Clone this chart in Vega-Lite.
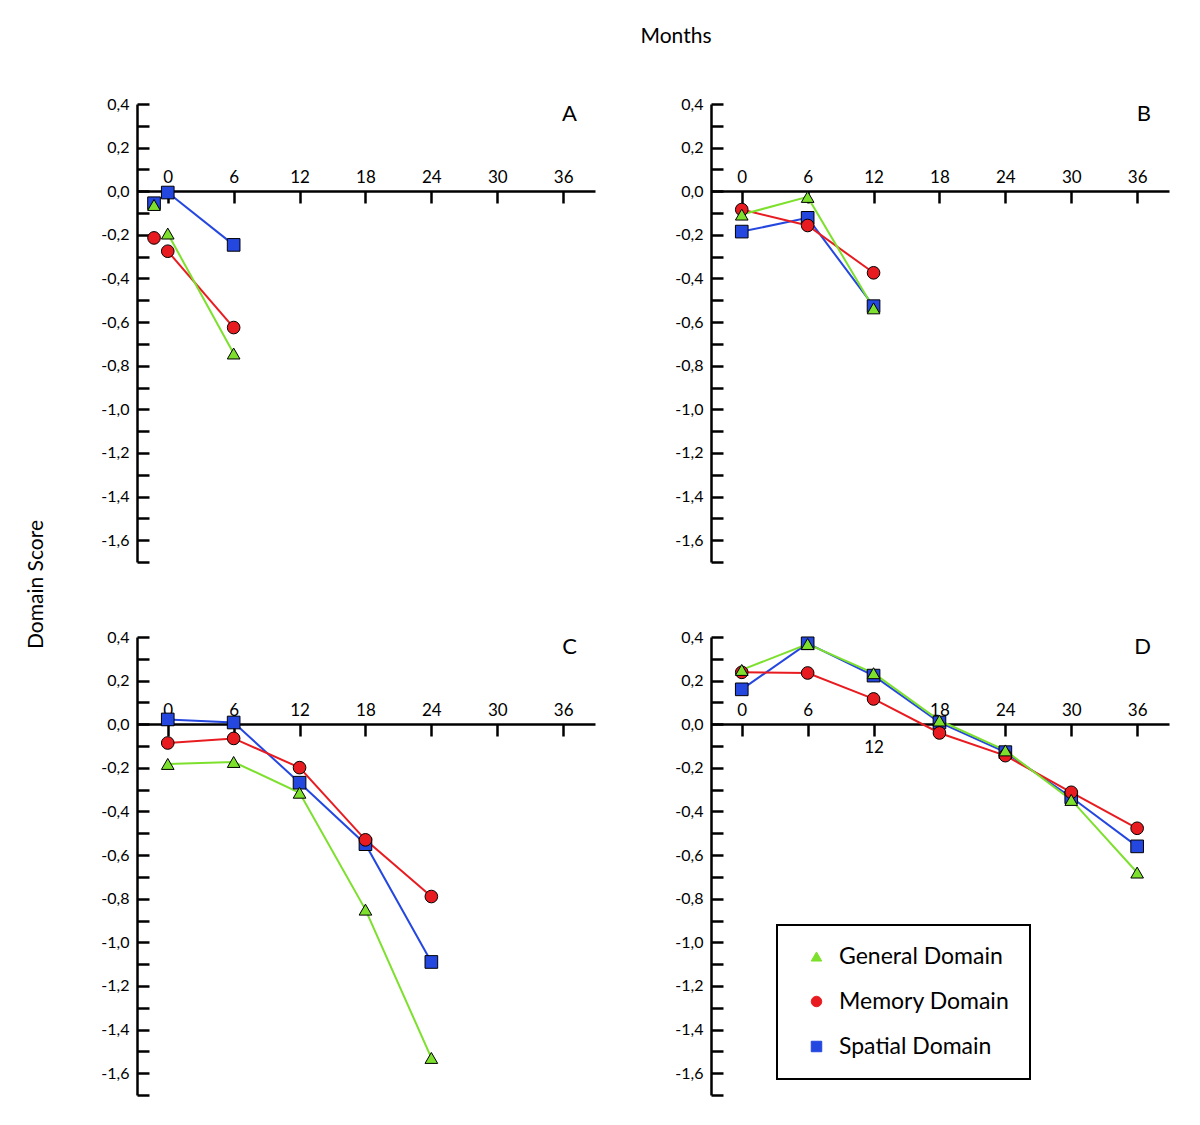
{
  "$schema": "https://vega.github.io/schema/vega-lite/v6.json",
  "background": "white",
  "padding": {"left": 25, "top": 26, "right": 10, "bottom": 10},
  "config": {
    "view": {"stroke": null},
    "font": "Lato",
    "title": {"font": "Lato", "fontWeight": "normal", "color": "black"},
    "axisY": {
      "orient": "left",
      "tickCount": 21,
      "tickSize": -12,
      "labelPadding": 20,
      "domainColor": "black",
      "domainWidth": 2.5,
      "tickColor": "black",
      "tickWidth": 2.5,
      "labelFont": "Lato",
      "labelFontSize": 16,
      "labelColor": "black",
      "labelOverlap": false,
      "labelFlush": false,
      "grid": false,
      "title": null,
      "labelExpr": "abs(round(datum.value*10)) % 2 == 0 ? replace(replace(format(datum.value, '.1f'), '.', ','), '\u2212', '-') : ''"
    },
    "axisX": {
      "orient": "bottom",
      "offset": -371,
      "tickSize": 12,
      "labelPadding": -21,
      "labelBaseline": "alphabetic",
      "domainColor": "black",
      "domainWidth": 2.5,
      "tickColor": "black",
      "tickWidth": 2.5,
      "labelFont": "Lato",
      "labelFontSize": 17,
      "labelColor": "black",
      "labelOverlap": false,
      "labelFlush": false,
      "grid": false,
      "title": null
    }
  },
  "datasets": {
    "pts": [
      {"panel": "A", "domain": "Spatial Domain", "month": -1.25, "score": -0.055},
      {"panel": "A", "domain": "Spatial Domain", "month": 0, "score": -0.006},
      {"panel": "A", "domain": "Spatial Domain", "month": 6, "score": -0.246},
      {"panel": "A", "domain": "Memory Domain", "month": -1.25, "score": -0.214},
      {"panel": "A", "domain": "Memory Domain", "month": 0, "score": -0.275},
      {"panel": "A", "domain": "Memory Domain", "month": 6, "score": -0.625},
      {"panel": "A", "domain": "General Domain", "month": -1.25, "score": -0.063},
      {"panel": "A", "domain": "General Domain", "month": 0, "score": -0.194},
      {"panel": "A", "domain": "General Domain", "month": 6, "score": -0.744},

      {"panel": "B", "domain": "Spatial Domain", "month": 0, "score": -0.185},
      {"panel": "B", "domain": "Spatial Domain", "month": 6, "score": -0.122},
      {"panel": "B", "domain": "Spatial Domain", "month": 12, "score": -0.527},
      {"panel": "B", "domain": "Memory Domain", "month": 0, "score": -0.084},
      {"panel": "B", "domain": "Memory Domain", "month": 6, "score": -0.157},
      {"panel": "B", "domain": "Memory Domain", "month": 12, "score": -0.374},
      {"panel": "B", "domain": "General Domain", "month": 0, "score": -0.107},
      {"panel": "B", "domain": "General Domain", "month": 6, "score": -0.026},
      {"panel": "B", "domain": "General Domain", "month": 12, "score": -0.537},

      {"panel": "C", "domain": "Spatial Domain", "month": 0, "score": 0.022},
      {"panel": "C", "domain": "Spatial Domain", "month": 6, "score": 0.008},
      {"panel": "C", "domain": "Spatial Domain", "month": 12, "score": -0.268},
      {"panel": "C", "domain": "Spatial Domain", "month": 18, "score": -0.55},
      {"panel": "C", "domain": "Spatial Domain", "month": 24, "score": -1.09},
      {"panel": "C", "domain": "Memory Domain", "month": 0, "score": -0.086},
      {"panel": "C", "domain": "Memory Domain", "month": 6, "score": -0.065},
      {"panel": "C", "domain": "Memory Domain", "month": 12, "score": -0.199},
      {"panel": "C", "domain": "Memory Domain", "month": 18, "score": -0.53},
      {"panel": "C", "domain": "Memory Domain", "month": 24, "score": -0.79},
      {"panel": "C", "domain": "General Domain", "month": 0, "score": -0.182},
      {"panel": "C", "domain": "General Domain", "month": 6, "score": -0.173},
      {"panel": "C", "domain": "General Domain", "month": 12, "score": -0.314},
      {"panel": "C", "domain": "General Domain", "month": 18, "score": -0.85},
      {"panel": "C", "domain": "General Domain", "month": 24, "score": -1.53},

      {"panel": "D", "domain": "Spatial Domain", "month": 0, "score": 0.16},
      {"panel": "D", "domain": "Spatial Domain", "month": 6, "score": 0.371},
      {"panel": "D", "domain": "Spatial Domain", "month": 12, "score": 0.223},
      {"panel": "D", "domain": "Spatial Domain", "month": 18, "score": 0.008},
      {"panel": "D", "domain": "Spatial Domain", "month": 24, "score": -0.128},
      {"panel": "D", "domain": "Spatial Domain", "month": 30, "score": -0.335},
      {"panel": "D", "domain": "Spatial Domain", "month": 36, "score": -0.56},
      {"panel": "D", "domain": "Memory Domain", "month": 0, "score": 0.238},
      {"panel": "D", "domain": "Memory Domain", "month": 6, "score": 0.235},
      {"panel": "D", "domain": "Memory Domain", "month": 12, "score": 0.116},
      {"panel": "D", "domain": "Memory Domain", "month": 18, "score": -0.04},
      {"panel": "D", "domain": "Memory Domain", "month": 24, "score": -0.144},
      {"panel": "D", "domain": "Memory Domain", "month": 30, "score": -0.312},
      {"panel": "D", "domain": "Memory Domain", "month": 36, "score": -0.477},
      {"panel": "D", "domain": "General Domain", "month": 0, "score": 0.249},
      {"panel": "D", "domain": "General Domain", "month": 6, "score": 0.368},
      {"panel": "D", "domain": "General Domain", "month": 12, "score": 0.234},
      {"panel": "D", "domain": "General Domain", "month": 18, "score": 0.017},
      {"panel": "D", "domain": "General Domain", "month": 24, "score": -0.12},
      {"panel": "D", "domain": "General Domain", "month": 30, "score": -0.347},
      {"panel": "D", "domain": "General Domain", "month": 36, "score": -0.68}
    ]
  },
  "title": {"text": "Months", "fontSize": 21, "anchor": "middle", "offset": 49, "dx": 79},
  "columns": 2,
  "spacing": {"row": 75, "column": 116},
  "bounds": "flush",
  "resolve": {"scale": {"color": "independent", "shape": "independent"}, "legend": {"color": "independent", "shape": "independent"}},
  "concat": [
    {
      "width": 458, "height": 458,
      "title": {"text": "A", "anchor": "end", "frame": "group", "offset": -30, "dx": -18, "fontSize": 22},
      "data": {"name": "pts"},
      "transform": [{"filter": "datum.panel == 'A'"}],
      "layer": [
        {
          "transform": [{"filter": "datum.month >= 0"}],
          "mark": {"type": "line", "strokeWidth": 2},
          "encoding": {
            "x": {"field": "month", "type": "quantitative", "scale": {"domain": [-2.8, 38.9], "nice": false, "zero": false}, "axis": {"values": [0, 6, 12, 18, 24, 30, 36]}},
            "y": {"field": "score", "type": "quantitative", "scale": {"domain": [-1.7, 0.4], "nice": false, "zero": false}, "axis": {"title": "Domain Score", "titleFont": "Lato", "titleFontSize": 21, "titleFontWeight": "normal", "titleColor": "black", "titleAngle": -90, "titleAlign": "center", "titleBaseline": "middle", "titleX": -101, "titleY": 480}},
            "color": {"field": "domain", "type": "nominal", "scale": {"domain": ["General Domain", "Memory Domain", "Spatial Domain"], "range": ["#7CE02C", "#E81C20", "#2447E0"]}, "legend": null}
          }
        },
        {
          "mark": {"type": "point", "filled": true, "stroke": "black", "strokeWidth": 1, "size": 160, "opacity": 1},
          "encoding": {
            "x": {"field": "month", "type": "quantitative"},
            "y": {"field": "score", "type": "quantitative"},
            "color": {"field": "domain", "type": "nominal", "legend": null},
            "shape": {"field": "domain", "type": "nominal", "scale": {"domain": ["General Domain", "Memory Domain", "Spatial Domain"], "range": ["triangle-up", "circle", "square"]}, "legend": null}
          }
        }
      ]
    },
    {
      "width": 458, "height": 458,
      "title": {"text": "B", "anchor": "end", "frame": "group", "offset": -30, "dx": -18, "fontSize": 22},
      "data": {"name": "pts"},
      "transform": [{"filter": "datum.panel == 'B'"}],
      "layer": [
        {
          "transform": [{"filter": "datum.month >= 0"}],
          "mark": {"type": "line", "strokeWidth": 2},
          "encoding": {
            "x": {"field": "month", "type": "quantitative", "scale": {"domain": [-2.8, 38.9], "nice": false, "zero": false}, "axis": {"values": [0, 6, 12, 18, 24, 30, 36]}},
            "y": {"field": "score", "type": "quantitative", "scale": {"domain": [-1.7, 0.4], "nice": false, "zero": false}},
            "color": {"field": "domain", "type": "nominal", "scale": {"domain": ["General Domain", "Memory Domain", "Spatial Domain"], "range": ["#7CE02C", "#E81C20", "#2447E0"]}, "legend": null}
          }
        },
        {
          "mark": {"type": "point", "filled": true, "stroke": "black", "strokeWidth": 1, "size": 160, "opacity": 1},
          "encoding": {
            "x": {"field": "month", "type": "quantitative"},
            "y": {"field": "score", "type": "quantitative"},
            "color": {"field": "domain", "type": "nominal", "legend": null},
            "shape": {"field": "domain", "type": "nominal", "scale": {"domain": ["General Domain", "Memory Domain", "Spatial Domain"], "range": ["triangle-up", "circle", "square"]}, "legend": null}
          }
        }
      ]
    },
    {
      "width": 458, "height": 458,
      "title": {"text": "C", "anchor": "end", "frame": "group", "offset": -30, "dx": -18, "fontSize": 22},
      "data": {"name": "pts"},
      "transform": [{"filter": "datum.panel == 'C'"}],
      "layer": [
        {
          "transform": [{"filter": "datum.month >= 0"}],
          "mark": {"type": "line", "strokeWidth": 2},
          "encoding": {
            "x": {"field": "month", "type": "quantitative", "scale": {"domain": [-2.8, 38.9], "nice": false, "zero": false}, "axis": {"values": [0, 6, 12, 18, 24, 30, 36]}},
            "y": {"field": "score", "type": "quantitative", "scale": {"domain": [-1.7, 0.4], "nice": false, "zero": false}},
            "color": {"field": "domain", "type": "nominal", "scale": {"domain": ["General Domain", "Memory Domain", "Spatial Domain"], "range": ["#7CE02C", "#E81C20", "#2447E0"]}, "legend": null}
          }
        },
        {
          "mark": {"type": "point", "filled": true, "stroke": "black", "strokeWidth": 1, "size": 160, "opacity": 1},
          "encoding": {
            "x": {"field": "month", "type": "quantitative"},
            "y": {"field": "score", "type": "quantitative"},
            "color": {"field": "domain", "type": "nominal", "legend": null},
            "shape": {"field": "domain", "type": "nominal", "scale": {"domain": ["General Domain", "Memory Domain", "Spatial Domain"], "range": ["triangle-up", "circle", "square"]}, "legend": null}
          }
        }
      ]
    },
    {
      "width": 458, "height": 458,
      "title": {"text": "D", "anchor": "end", "frame": "group", "offset": -30, "dx": -18, "fontSize": 22},
      "data": {"name": "pts"},
      "transform": [{"filter": "datum.panel == 'D'"}],
      "layer": [
        {
          "transform": [{"filter": "datum.month >= 0"}],
          "mark": {"type": "line", "strokeWidth": 2},
          "encoding": {
            "x": {"field": "month", "type": "quantitative", "scale": {"domain": [-2.8, 38.9], "nice": false, "zero": false}, "axis": {"values": [0, 6, 12, 18, 24, 30, 36], "labelExpr": "datum.value == 12 ? ['', '', '12'] : datum.label", "labelLineHeight": 37}},
            "y": {"field": "score", "type": "quantitative", "scale": {"domain": [-1.7, 0.4], "nice": false, "zero": false}},
            "color": {"field": "domain", "type": "nominal", "scale": {"domain": ["General Domain", "Memory Domain", "Spatial Domain"], "range": ["#7CE02C", "#E81C20", "#2447E0"]},
              "legend": {"title": null, "orient": "none", "legendX": 66, "legendY": 288, "padding": 20, "strokeColor": "black", "labelFont": "Lato", "labelFontSize": 23, "labelColor": "black", "symbolSize": 110, "symbolStrokeColor": "black", "symbolStrokeWidth": 1, "symbolOffset": 8, "rowPadding": 21, "labelOffset": 11, "labelLimit": 400, "labelExpr": "datum.label + '\u2003\u2003'", "encode": {"legend": {"update": {"strokeWidth": {"value": 2}}}, "symbols": {"update": {"stroke": {"value": "black"}, "strokeWidth": {"value": 1}}}}}}
          }
        },
        {
          "mark": {"type": "point", "filled": true, "stroke": "black", "strokeWidth": 1, "size": 160, "opacity": 1},
          "encoding": {
            "x": {"field": "month", "type": "quantitative"},
            "y": {"field": "score", "type": "quantitative"},
            "color": {"field": "domain", "type": "nominal",
              "legend": {"title": null, "orient": "none", "legendX": 66, "legendY": 288, "padding": 20, "strokeColor": "black", "labelFont": "Lato", "labelFontSize": 23, "labelColor": "black", "symbolSize": 110, "symbolStrokeColor": "black", "symbolStrokeWidth": 1, "symbolOffset": 8, "rowPadding": 21, "labelOffset": 11, "labelLimit": 400, "labelExpr": "datum.label + '\u2003\u2003'", "encode": {"legend": {"update": {"strokeWidth": {"value": 2}}}, "symbols": {"update": {"stroke": {"value": "black"}, "strokeWidth": {"value": 1}}}}}},
            "shape": {"field": "domain", "type": "nominal", "scale": {"domain": ["General Domain", "Memory Domain", "Spatial Domain"], "range": ["triangle-up", "circle", "square"]},
              "legend": {"title": null, "orient": "none", "legendX": 66, "legendY": 288, "padding": 20, "strokeColor": "black", "labelFont": "Lato", "labelFontSize": 23, "labelColor": "black", "symbolSize": 110, "symbolStrokeColor": "black", "symbolStrokeWidth": 1, "symbolOffset": 8, "rowPadding": 21, "labelOffset": 11, "labelLimit": 400, "labelExpr": "datum.label + '\u2003\u2003'", "encode": {"legend": {"update": {"strokeWidth": {"value": 2}}}, "symbols": {"update": {"stroke": {"value": "black"}, "strokeWidth": {"value": 1}}}}}}
          }
        }
      ]
    }
  ]
}
